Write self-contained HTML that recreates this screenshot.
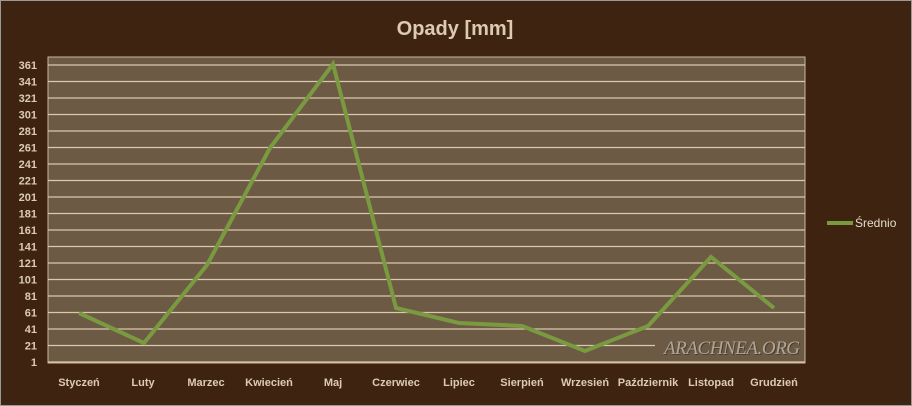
<!DOCTYPE html>
<html><head><meta charset="utf-8"><style>
html,body{margin:0;padding:0;background:#3e2410;}
svg{display:block;font-family:"Liberation Sans",sans-serif;}
</style></head><body>
<svg width="912" height="406" viewBox="0 0 912 406" xmlns="http://www.w3.org/2000/svg">
<rect x="0.5" y="0.5" width="911" height="405" fill="#3e2410" stroke="#9a9a9a"/>
<text x="455" y="35" text-anchor="middle" font-size="20" font-weight="bold" fill="#dccbb2">Opady [mm]</text>
<rect x="48" y="57" width="757" height="306" fill="#6c5a45" stroke="#c9b89c" stroke-width="1"/>
<g stroke="#d8c8ac" stroke-width="1.2">
<line x1="48" x2="805" y1="65" y2="65"/><line x1="48" x2="805" y1="81.5" y2="81.5"/><line x1="48" x2="805" y1="98" y2="98"/><line x1="48" x2="805" y1="114.5" y2="114.5"/><line x1="48" x2="805" y1="131" y2="131"/><line x1="48" x2="805" y1="147.5" y2="147.5"/><line x1="48" x2="805" y1="164" y2="164"/><line x1="48" x2="805" y1="180.5" y2="180.5"/><line x1="48" x2="805" y1="197" y2="197"/><line x1="48" x2="805" y1="213.5" y2="213.5"/><line x1="48" x2="805" y1="230" y2="230"/><line x1="48" x2="805" y1="246.5" y2="246.5"/><line x1="48" x2="805" y1="263" y2="263"/><line x1="48" x2="805" y1="279.5" y2="279.5"/><line x1="48" x2="805" y1="296" y2="296"/><line x1="48" x2="805" y1="312.5" y2="312.5"/><line x1="48" x2="805" y1="329" y2="329"/><line x1="48" x2="655" y1="345.5" y2="345.5"/><line x1="48" x2="805" y1="362" y2="362"/>
</g>
<g font-size="11" font-weight="bold" fill="#dccbb2" text-anchor="end">
<text x="37" y="69">361</text><text x="37" y="85.5">341</text><text x="37" y="102">321</text><text x="37" y="118.5">301</text><text x="37" y="135">281</text><text x="37" y="151.5">261</text><text x="37" y="168">241</text><text x="37" y="184.5">221</text><text x="37" y="201">201</text><text x="37" y="217.5">181</text><text x="37" y="234">161</text><text x="37" y="250.5">141</text><text x="37" y="267">121</text><text x="37" y="283.5">101</text><text x="37" y="300">81</text><text x="37" y="316.5">61</text><text x="37" y="333">41</text><text x="37" y="349.5">21</text><text x="37" y="366">1</text>
</g>
<text x="801" y="355" text-anchor="end" font-family="Liberation Serif,serif" font-style="italic" font-size="19" fill="#4a3d30" textLength="136">ARACHNEA.ORG</text>
<text x="800" y="354" text-anchor="end" font-family="Liberation Serif,serif" font-style="italic" font-size="19" fill="#b0a796" textLength="136">ARACHNEA.ORG</text>
<polyline fill="none" stroke="#7a9a40" stroke-width="4" stroke-linejoin="miter" points="79,313 144,343 207,265 270,148 333,64 396,308 459,323 522,326 585,351 648,326 711,257 774,308"/>
<g font-size="11" font-weight="bold" fill="#dccbb2" text-anchor="middle">
<text x="79" y="386">Styczeń</text><text x="143" y="386">Luty</text><text x="206" y="386">Marzec</text><text x="269" y="386">Kwiecień</text><text x="333" y="386">Maj</text><text x="396" y="386">Czerwiec</text><text x="459" y="386">Lipiec</text><text x="522" y="386">Sierpień</text><text x="585" y="386">Wrzesień</text><text x="648" y="386">Październik</text><text x="711" y="386">Listopad</text><text x="774" y="386">Grudzień</text>
</g>
<line x1="827" x2="853" y1="223" y2="223" stroke="#7a9a40" stroke-width="4"/>
<text x="855" y="227" font-size="12" fill="#e6dccb">Średnio</text>
</svg>
</body></html>
